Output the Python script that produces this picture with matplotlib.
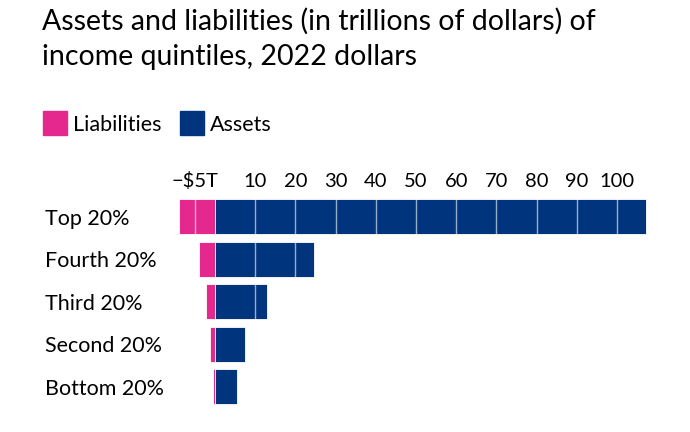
import matplotlib
matplotlib.use('Agg')
import matplotlib.pyplot as plt
from matplotlib.lines import Line2D

plt.rcParams['font.family'] = ['Lato', 'DejaVu Sans']

# data (trillions of 2022 dollars)
groups = ['Top 20%', 'Fourth 20%', 'Third 20%', 'Second 20%', 'Bottom 20%']
liabilities = [-9.0, -4.0, -2.2, -1.2, -0.5]
assets = [107.2, 24.6, 12.9, 7.5, 5.5]
ticks = [-5, 10, 20, 30, 40, 50, 60, 70, 80, 90, 100]
tick_labels = ['\u2212$5T', '10', '20', '30', '40', '50', '60', '70', '80', '90', '100']

pink = '#e5288d'
blue = '#00347c'

fig = plt.figure(figsize=(6.9, 4.32), dpi=100)
ax = fig.add_axes([0.2533, 0.0553, 0.6991, 0.4928])

y = list(range(len(groups)))
ax.barh(y, liabilities, height=0.82, color=pink, edgecolor='white', linewidth=0.6)
ax.barh(y, assets, height=0.82, color=blue, edgecolor='white', linewidth=0.6)

# white grid lines on top of the bars
ax.set_xticks(ticks)
ax.set_xticklabels(tick_labels)
ax.grid(axis='x', color='white', linewidth=1, alpha=0.6)
ax.set_axisbelow(False)

ax.set_xlim(-10, 110)
ax.set_ylim(4.5, -0.5)
ax.xaxis.tick_top()
ax.tick_params(axis='x', length=0, pad=4, labelsize=14.5)
ax.set_yticks(y)
ax.set_yticklabels(groups, ha='left')
ax.tick_params(axis='y', length=0, pad=93.6, labelsize=15.5)
for s in ax.spines.values():
    s.set_visible(False)

fig.text(42 / 690, 1 - 30 / 432, 'Assets and liabilities (in trillions of dollars) of',
         ha='left', va='baseline', fontsize=20.5)
fig.text(42 / 690, 1 - 65 / 432, 'income quintiles, 2022 dollars',
         ha='left', va='baseline', fontsize=20.5)

handles = [Line2D([], [], marker='s', linestyle='none', markersize=17.3, color=pink),
           Line2D([], [], marker='s', linestyle='none', markersize=17.3, color=blue)]
fig.legend(handles, ['Liabilities', 'Assets'], loc='center left', bbox_to_anchor=(34.4 / 690, 1 - 125 / 432),
           ncol=2, frameon=False, fontsize=15.5, handlelength=1.1, handletextpad=0.3,
           columnspacing=0.84, borderaxespad=0)

fig.savefig('out.png', dpi=100)
